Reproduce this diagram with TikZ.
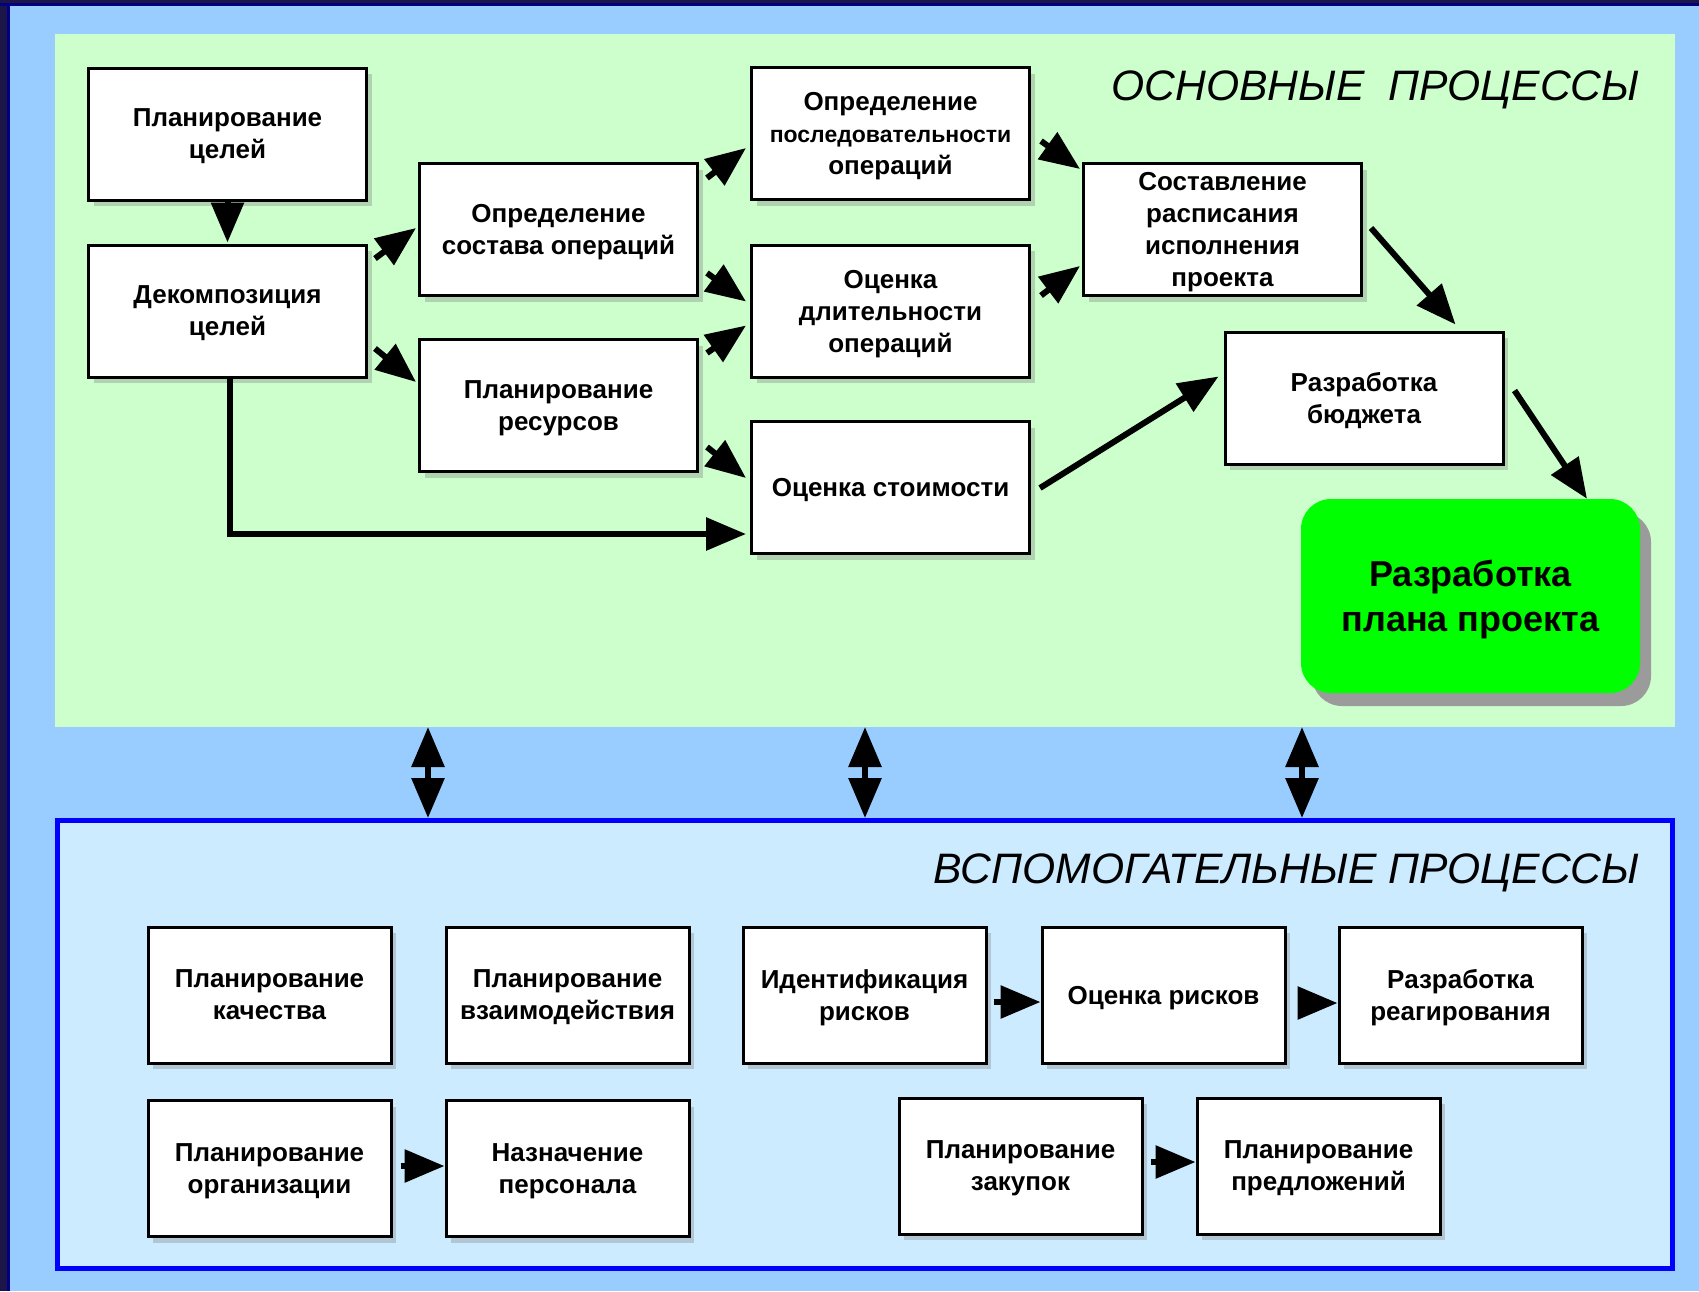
\documentclass[tikz,border=0pt]{standalone}
\usepackage{fontspec}
\setmainfont{Liberation Sans}
\usetikzlibrary{arrows.meta,calc,shadows}
\definecolor{bgblue}{RGB}{153,204,255}
\definecolor{panelgreen}{RGB}{204,255,204}
\definecolor{panelblue}{RGB}{204,235,255}
\definecolor{darkframe}{RGB}{27,21,72}
\definecolor{navyline}{RGB}{0,0,128}
\definecolor{brightgreen}{RGB}{0,255,0}
\definecolor{shadowgray}{RGB}{155,155,155}
\begin{document}
\begin{tikzpicture}[x=1pt,y=-1pt,
  box/.style={draw=black, line width=3pt, fill=white, align=center,
    font=\fontsize{26}{32}\selectfont\bfseries, text depth=-3pt,
    drop shadow={shadow xshift=5pt,shadow yshift=-6pt,opacity=0.35}},
  topbox/.style={box, minimum width=278pt, minimum height=132pt},
  lowbox/.style={box, minimum width=243pt, minimum height=136pt},
  arr/.style={line width=6pt, -{Triangle[length=40pt,width=32pt]}},
  darr/.style={line width=6pt, {Triangle[length=40pt,width=32pt]}-{Triangle[length=40pt,width=32pt]}},
  ttl/.style={anchor=east, font=\fontsize{42.6}{50}\selectfont\itshape}]
\useasboundingbox (0,0) rectangle (1699,1291);
% background and frame
\fill[bgblue] (0,0) rectangle (1699,1291);
\fill[darkframe] (0,0) rectangle (8,1291);
\fill[navyline] (7,0) rectangle (10,1291);
\fill[darkframe] (0,0) rectangle (1699,3);
\fill[navyline] (0,3) rectangle (1699,6);
% panels
\node[fill=panelgreen, inner sep=0pt, minimum width=1620pt, minimum height=693pt] (mainpanel) at (865,380.5) {};
\node[fill=panelblue, draw=blue, line width=5pt, inner sep=0pt, minimum width=1615pt, minimum height=448pt] (lowpanel) at (865,1044.5) {};
% titles
\node[ttl] (t1) at (1643,90) {ОСНОВНЫЕ\ \ ПРОЦЕССЫ};
\node[ttl] (t2) at (1643,873) {ВСПОМОГАТЕЛЬНЫЕ ПРОЦЕССЫ};
% main boxes
\node[topbox] (b1) at (227.5,134) {Планирование\\целей};
\node[topbox] (b2) at (227.5,311) {Декомпозиция\\целей};
\node[topbox] (b3) at (558.5,229.5) {Определение\\состава операций};
\node[topbox] (b4) at (558.5,405.5) {Планирование\\ресурсов};
\node[topbox] (b5) at (890.5,133.5) {Определение\\{\fontsize{23}{31}\selectfont последовательности}\\операций};
\node[topbox] (b6) at (890.5,311) {Оценка\\длительности\\операций};
\node[topbox] (b7) at (890.5,487.5) {Оценка стоимости};
\node[topbox] (b8) at (1222.5,229.5) {Составление\\расписания\\исполнения\\проекта};
\node[topbox] (b9) at (1364,398) {Разработка\\бюджета};
\node[draw=none, fill=brightgreen, rounded corners=30pt, align=center,
  minimum width=339pt, minimum height=194pt,
  font=\fontsize{36}{45}\selectfont\bfseries, text depth=-2pt,
  drop shadow={shadow xshift=11pt,shadow yshift=-13pt,fill=shadowgray,opacity=1}] (plan) at (1470.5,596) {Разработка\\плана проекта};
% lower boxes
\node[lowbox] (q1) at (269.5,995) {Планирование\\качества};
\node[lowbox] (q2) at (567.5,995) {Планирование\\взаимодействия};
\node[lowbox] (q3) at (864.5,995) {Идентификация\\рисков};
\node[lowbox] (q4) at (1163.5,995) {Оценка рисков};
\node[lowbox] (q5) at (1460.5,995) {Разработка\\реагирования};
\node[lowbox] (q6) at (269.5,1168.5) {Планирование\\организации};
\node[lowbox] (q7) at (567.5,1168.5) {Назначение\\персонала};
\node[lowbox] (q8) at (1020.5,1166) {Планирование\\закупок};
\node[lowbox] (q9) at (1318.5,1166) {Планирование\\предложений};
% main arrows
\draw[arr, shorten >=1pt] (b1.south) -- (b2.north);
\draw[arr] ($(b2.north east)+(7,15)$) -- ($(b3.north west)+(-2,66)$);
\draw[arr] ($(b2.north east)+(7,105)$) -- ($(b4.north west)+(-2,44)$);
\draw[arr] ($(b3.north east)+(8,16)$) -- ($(b5.north west)+(-4,82)$);
\draw[arr] ($(b3.north east)+(8,111)$) -- ($(b6.north west)+(-4,58)$);
\draw[arr] ($(b4.north east)+(8,15)$) -- ($(b6.north west)+(-4,82)$);
\draw[arr] ($(b4.north east)+(8,109)$) -- ($(b7.north west)+(-4,58)$);
\draw[arr] ($(b5.north east)+(10,75)$) -- ($(b8.north west)+(-2,7)$);
\draw[arr] ($(b6.north east)+(10,52)$) -- ($(b8.north west)+(-2,104)$);
\draw[arr] ($(b7.north east)+(9,68)$) -- ($(b9.north west)+(-5,46)$);
\draw[arr] ($(b8.north east)+(8,66)$) -- ($(b9.north west)+(232,-6)$);
\draw[arr] ($(b9.north east)+(10,60)$) -- ($(plan.north)+(116.5,0)$);
\draw[arr, shorten >=4pt] ($(b2.south)+(2,0)$) |- ($(b7.west)+(0,46.5)$);
% double arrows between panels
\coordinate (d1) at (428,727);
\coordinate (d2) at (865,727);
\coordinate (d3) at (1302,727);
\draw[darr] (d1) -- (d1 |- lowpanel.north);
\draw[darr] (d2) -- (d2 |- lowpanel.north);
\draw[darr] (d3) -- (d3 |- lowpanel.north);
% lower arrows
\draw[arr] ($(q3.east)+(6,7)$) -- ($(q4.west)+(0,7)$);
\draw[arr] ($(q4.east)+(12,8)$) -- ($(q5.west)+(0,8)$);
\draw[arr] ($(q6.east)+(8,-2.5)$) -- ($(q7.west)+(0,-2.5)$);
\draw[arr] ($(q8.east)+(7,-4)$) -- ($(q9.west)+(0,-4)$);
\end{tikzpicture}
\end{document}
